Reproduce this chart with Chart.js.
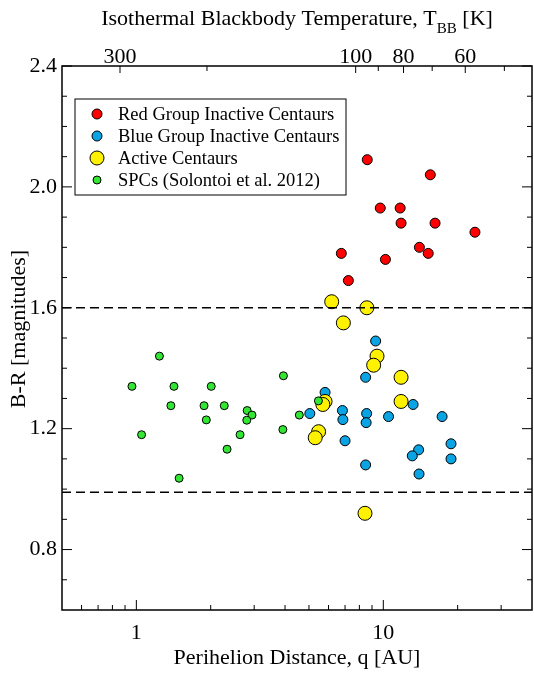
<!DOCTYPE html>
<html>
<head>
<meta charset="utf-8">
<script src="https://cdn.jsdelivr.net/npm/chart.js@4.4.1/dist/chart.umd.min.js"></script>
<style>
  html, body { margin: 0; padding: 0; background: #fff; }
</style>
</head>
<body>
<canvas id="chart" width="534" height="673"></canvas>
<script>
// values: perihelion distance q [AU] and B-R colour
const redQ  = [8.61, 15.5, 9.72, 11.7, 11.8, 16.2, 23.5, 14.0, 15.2, 6.76, 10.2, 7.22];
const redBR = [2.09, 2.04, 1.93, 1.93, 1.88, 1.88, 1.85, 1.80, 1.78, 1.78, 1.76, 1.69];

const blueQ  = [9.31, 8.48, 5.81, 13.2, 5.04, 6.83, 6.86, 8.56, 8.52, 10.5, 17.3, 7.00, 18.8, 13.9, 13.1, 18.8, 8.48, 13.95];
const blueBR = [1.49, 1.37, 1.32, 1.28, 1.25, 1.26, 1.23, 1.25, 1.22, 1.24, 1.24, 1.16, 1.15, 1.13, 1.11, 1.10, 1.08, 1.05];

const activeQ  = [6.18, 8.58, 6.89, 9.43, 9.14, 11.8, 11.8, 5.81, 5.69, 5.47, 5.30, 8.43];
const activeBR = [1.62, 1.60, 1.55, 1.44, 1.41, 1.37, 1.29, 1.29, 1.28, 1.19, 1.17, 0.92];

const spcQ  = [1.24, 0.96, 1.42, 2.01, 3.94, 1.38, 1.88, 2.27, 2.81, 2.94, 2.80, 1.92, 4.57, 5.46, 1.05, 2.63, 3.92, 2.33, 1.49];
const spcBR = [1.44, 1.34, 1.34, 1.34, 1.375, 1.276, 1.276, 1.276, 1.26, 1.245, 1.228, 1.229, 1.245, 1.292, 1.18, 1.18, 1.197, 1.132, 1.036];

// dashed group boundaries
const limitBR = [1.6, 0.99];

// axis ticks
const qLabelTicks = [1, 10];
const qMinorTicks = [0.6, 0.7, 0.8, 0.9, 2, 3, 4, 5, 6, 7, 8, 9, 20, 30];
const tempLabelTicks = [300, 100, 80, 60];
const tempMinorTicks = [200, 90, 70, 50];
const brMajorTicks = [0.8, 1.2, 1.6, 2.0, 2.4];
const brMinorTicks = [0.7, 0.9, 1.0, 1.1, 1.3, 1.4, 1.5, 1.7, 1.8, 1.9, 2.1, 2.2, 2.3];

const FONT = '"Liberation Serif", "Times New Roman", serif';
const T0 = 278; // T_BB = 278 K / sqrt(q)
const tempToQ = t => (T0 / t) ** 2;

function pts(qs, brs) {
  return qs.map((q, i) => ({ x: q, y: brs[i] }));
}

// frame, inward tick marks, legend box and the two titles
const decorPlugin = {
  id: 'decor',
  afterDraw(chart) {
    const { ctx, chartArea: a, scales } = chart;
    ctx.save();
    ctx.strokeStyle = '#000';
    ctx.lineWidth = 1;
    ctx.beginPath();
    const up = (v, len) => { const x = scales.x.getPixelForValue(v); ctx.moveTo(x, a.bottom); ctx.lineTo(x, a.bottom - len); };
    const down = (t, len) => { const x = scales.x2.getPixelForValue(tempToQ(t)); ctx.moveTo(x, a.top); ctx.lineTo(x, a.top + len); };
    const side = (v, len) => {
      const y = scales.y.getPixelForValue(v);
      ctx.moveTo(a.left, y); ctx.lineTo(a.left + len, y);
      ctx.moveTo(a.right, y); ctx.lineTo(a.right - len, y);
    };
    qLabelTicks.forEach(v => up(v, 10));
    qMinorTicks.forEach(v => up(v, 5));
    tempLabelTicks.forEach(t => down(t, 7));
    tempMinorTicks.forEach(t => down(t, 5));
    brMajorTicks.forEach(v => side(v, 10));
    brMinorTicks.forEach(v => side(v, 5));
    ctx.stroke();

    ctx.lineWidth = 1.5;
    ctx.strokeRect(a.left, a.top, a.right - a.left, a.bottom - a.top);

    // legend
    const bx = a.left + 13, by = a.top + 33;
    ctx.fillStyle = '#fff';
    ctx.fillRect(bx, by, 271, 96);
    ctx.lineWidth = 1;
    ctx.strokeRect(bx, by, 271, 96);
    const entries = chart.data.datasets.filter(d => !d.isLimit)
      .sort((p, q) => p.legendIndex - q.legendIndex);
    ctx.font = '18.5px ' + FONT;
    ctx.textBaseline = 'middle';
    entries.forEach((d, i) => {
      const y = by + 15 + i * 22;
      ctx.beginPath();
      ctx.arc(bx + 22, y, d.pointRadius, 0, Math.PI * 2);
      ctx.fillStyle = d.backgroundColor;
      ctx.fill();
      ctx.strokeStyle = '#000';
      ctx.stroke();
      ctx.fillStyle = '#000';
      ctx.fillText(d.label, bx + 43, y + 1);
    });

    // y title, sits a bit above the plot centre in the original
    ctx.save();
    ctx.translate(19, a.top + (a.bottom - a.top) / 2 - 9);
    ctx.rotate(-Math.PI / 2);
    ctx.font = '22px ' + FONT;
    ctx.textAlign = 'center';
    ctx.textBaseline = 'middle';
    ctx.fillStyle = '#000';
    ctx.fillText('B-R [magnitudes]', 0, 0);
    ctx.restore();

    // top title with subscript
    const main = 'Isothermal Blackbody Temperature, T';
    const sub = 'BB';
    const tail = ' [K]';
    ctx.font = '22px ' + FONT;
    const w1 = ctx.measureText(main).width, w3 = ctx.measureText(tail).width;
    ctx.font = '15px ' + FONT;
    const w2 = ctx.measureText(sub).width;
    let x = (a.left + a.right) / 2 - (w1 + w2 + w3) / 2;
    ctx.textBaseline = 'alphabetic';
    ctx.fillStyle = '#000';
    ctx.font = '22px ' + FONT;
    ctx.fillText(main, x, 25);
    x += w1;
    ctx.font = '15px ' + FONT;
    ctx.fillText(sub, x, 33);
    x += w2;
    ctx.font = '22px ' + FONT;
    ctx.fillText(tail, x, 25);
    ctx.restore();
  }
};

const tickFont = { family: FONT, size: 22 };

new Chart(document.getElementById('chart'), {
  type: 'scatter',
  data: {
    datasets: [
      { label: 'upper limit', isLimit: true, data: pts([0.5, 40], [limitBR[0], limitBR[0]]), showLine: true,
        borderColor: '#000', borderWidth: 1.5, borderDash: [9, 5], pointRadius: 0, order: 0 },
      { label: 'lower limit', isLimit: true, data: pts([0.5, 40], [limitBR[1], limitBR[1]]), showLine: true,
        borderColor: '#000', borderWidth: 1.5, borderDash: [9, 5], pointRadius: 0, order: 0 },
      { label: 'Red Group Inactive Centaurs', legendIndex: 0, data: pts(redQ, redBR),
        backgroundColor: '#FF0000', borderColor: '#000', borderWidth: 1, pointRadius: 5, order: 4 },
      { label: 'Blue Group Inactive Centaurs', legendIndex: 1, data: pts(blueQ, blueBR),
        backgroundColor: '#0AA3E3', borderColor: '#000', borderWidth: 1, pointRadius: 5, order: 3 },
      { label: 'Active Centaurs', legendIndex: 2, data: pts(activeQ, activeBR),
        backgroundColor: '#FFF200', borderColor: '#000', borderWidth: 1, pointRadius: 7, order: 2 },
      { label: 'SPCs (Solontoi et al. 2012)', legendIndex: 3, data: pts(spcQ, spcBR),
        backgroundColor: '#33E633', borderColor: '#000', borderWidth: 1, pointRadius: 4, order: 1 }
    ]
  },
  options: {
    responsive: false,
    animation: false,
    events: [],
    layout: { autoPadding: false, padding: { left: 0, right: 2, top: 0, bottom: 0 } },
    plugins: { legend: { display: false }, tooltip: { enabled: false } },
    scales: {
      x: {
        type: 'logarithmic', position: 'bottom', min: 0.5, max: 40,
        afterBuildTicks: s => { s.ticks = qLabelTicks.map(v => ({ value: v })); },
        afterFit: s => { s.height = 63; },
        grid: { display: false, drawTicks: false },
        border: { display: false },
        ticks: { padding: 10, color: '#000', font: tickFont, autoSkip: false, maxRotation: 0,
                 callback: v => String(v) },
        title: { display: true, text: 'Perihelion Distance, q [AU]', color: '#000', font: tickFont,
                 padding: { top: 0, bottom: 2 } }
      },
      x2: {
        type: 'logarithmic', position: 'top', display: true, min: 0.5, max: 40,
        afterBuildTicks: s => { s.ticks = tempLabelTicks.map(t => ({ value: tempToQ(t) })); },
        afterFit: s => { s.height = 66; },
        grid: { display: false, drawTicks: false },
        border: { display: false },
        ticks: { padding: -4, color: '#000', font: tickFont, autoSkip: false, maxRotation: 0,
                 callback: v => String(Math.round(T0 / Math.sqrt(v))) }
      },
      y: {
        type: 'linear', position: 'left', min: 0.6, max: 2.4,
        afterBuildTicks: s => { s.ticks = brMajorTicks.map(v => ({ value: v })); },
        afterFit: s => { s.width = 62; },
        grid: { display: false, drawTicks: false },
        border: { display: false },
        ticks: { padding: 5, color: '#000', font: tickFont, callback: v => v.toFixed(1) }
      }
    }
  },
  plugins: [decorPlugin]
});
</script>
</body>
</html>
